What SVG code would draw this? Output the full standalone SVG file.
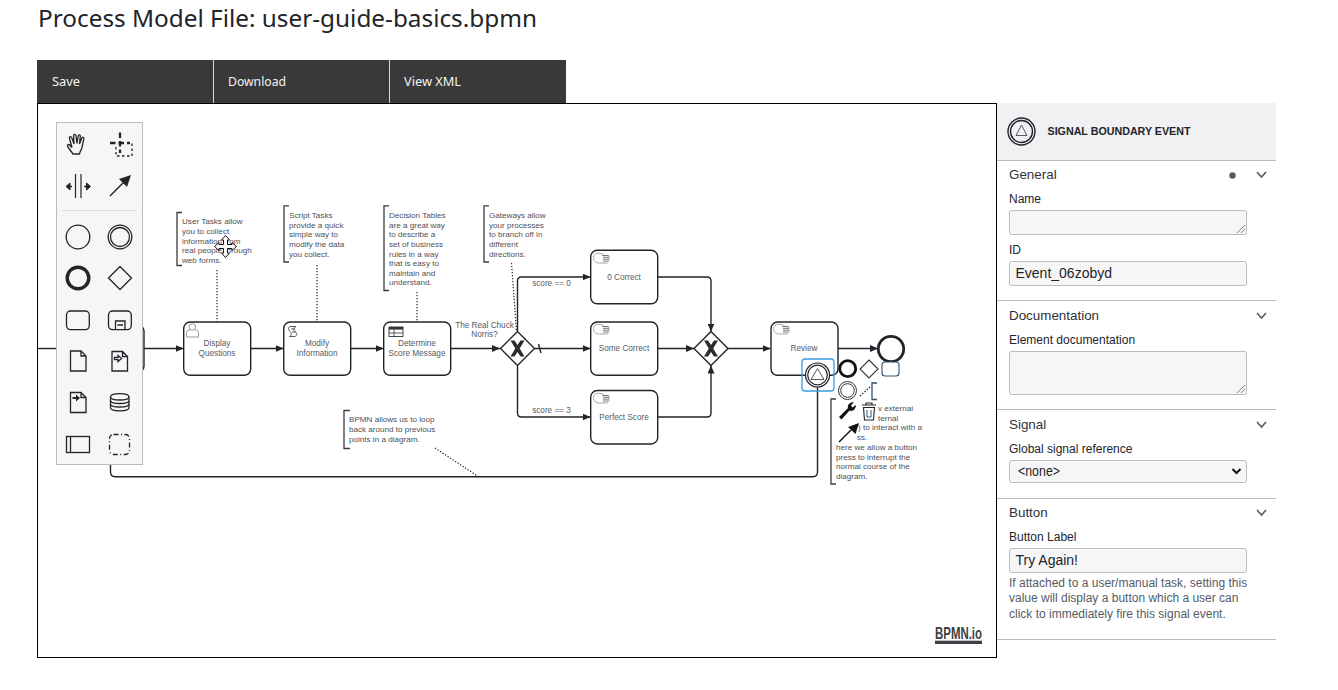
<svg xmlns="http://www.w3.org/2000/svg" xmlns:xlink="http://www.w3.org/1999/xlink" width="1338" height="690" viewBox="0 0 1338 690">
<style>
text{font-family:"Liberation Sans",Arial,sans-serif}
.plex{font-family:"Noto Sans","Open Sans",sans-serif}
.task{fill:#fff;stroke:#22242a;stroke-width:1.4}
.lbl{font-size:8.2px;fill:#555b66;text-anchor:middle}
.ann{font-size:8.1px;fill:#4f4f55}
.br{fill:none;stroke:#3a3b40;stroke-width:1.3}
.dot{fill:none;stroke:#22242a;stroke-width:1.2;stroke-dasharray:1.3 1.7}
.flow{fill:none;stroke:#22242a;stroke-width:1.4}
.ico{fill:none;stroke:#22242a;stroke-width:1.3}
.mt{fill:#fff;stroke:#9a9ca0;stroke-width:.9}
.pl{font-size:12px;fill:#22242a}
.sec{font-size:13.4px;fill:#30333a}
.field{fill:#f6f6f6;stroke:#b9bcc6;stroke-width:1}
.rule{stroke:#b9bcc6;stroke-width:1}
.chev{fill:none;stroke:#555b66;stroke-width:1.6}
.val{font-size:14px;fill:#22242a}
.btn{font-size:13px;fill:#f4f4f4}
</style>
<defs>
<marker id="ah" markerUnits="userSpaceOnUse" viewBox="0 0 8 7" markerWidth="8" markerHeight="7" refX="8" refY="3.5" orient="auto"><path d="M0 0L8 3.5L0 7Z" fill="#22242a"/></marker>
<g id="manual">
<path class="mt" d="M0 4.5C0 1.5 2.5 0 5 0.3L8 0.6C9.5 0.2 10 1.5 9 2.3L14.5 2.5C16 2.6 16 4 15 4.2C16.2 4.6 16 6 15 6.2C16 6.8 15.6 8 14.6 8C15 9 14.2 10 13.2 10H6C2.5 10 0 8 0 4.5Z"/>
<path d="M9 2.6H15M9.5 4.4H15.5M9.5 6.2H15.2M9.5 8H14.4" fill="none" stroke="#6c6e72" stroke-width=".9"/>
</g>
<path id="gwx" d="M-7 -8L-3 -8L0 -3.5L3 -8L7 -8L2.2 0L7 8L3 8L0 3.5L-3 8L-7 8L-2.2 0Z" fill="#2b2c30"/>
</defs>
<rect width="1338" height="690" fill="#fff"/>
<text class="plex" x="38" y="27" font-size="24" fill="#22242a" textLength="499" lengthAdjust="spacingAndGlyphs">Process Model File: user-guide-basics.bpmn</text>
<g id="toolbar">
<rect x="37" y="60" width="529" height="43" fill="#393939"/>
<path d="M213.5 60V103M389.5 60V103" stroke="#d8d8d8" stroke-width="1"/>
<text class="plex btn" x="52" y="86" textLength="28" lengthAdjust="spacingAndGlyphs">Save</text>
<text class="plex btn" x="228" y="86" textLength="58" lengthAdjust="spacingAndGlyphs">Download</text>
<text class="plex btn" x="404" y="86" textLength="57" lengthAdjust="spacingAndGlyphs">View XML</text>
</g>
<rect id="canvas" x="37.5" y="103.5" width="959" height="554" fill="#fff" stroke="#000" stroke-width="1"/>
<g id="connectors">
<path class="flow" d="M38 348.5H57"/>
<path class="flow" marker-end="url(#ah)" d="M144 348.5H183.5"/>
<path class="flow" marker-end="url(#ah)" d="M251 348.5H283.5"/>
<path class="flow" marker-end="url(#ah)" d="M351 348.5H383.5"/>
<path class="flow" marker-end="url(#ah)" d="M451 348.5H500"/>
<path class="flow" marker-end="url(#ah)" d="M517.5 331V281Q517.5 277 521.5 277H590.5"/>
<path class="flow" marker-end="url(#ah)" d="M535 348.5H590.5"/>
<path class="flow" d="M538.5 344L541 353"/>
<path class="flow" marker-end="url(#ah)" d="M517.5 366V413Q517.5 417 521.5 417H590.5"/>
<path class="flow" marker-end="url(#ah)" d="M657.5 277H707Q711 277 711 281V331.5"/>
<path class="flow" marker-end="url(#ah)" d="M657.5 348.5H694"/>
<path class="flow" marker-end="url(#ah)" d="M657.5 417H707Q711 417 711 413V365.5"/>
<path class="flow" marker-end="url(#ah)" d="M728 348.5H770.5"/>
<path class="flow" marker-end="url(#ah)" d="M838 348.5H878"/>
<path class="flow" d="M817.5 387V472Q817.5 476.7 813 476.7H115Q110.5 476.7 110.5 472V464"/>
<path class="dot" d="M217 270V322"/>
<path class="dot" d="M317 265V322"/>
<path class="dot" d="M417 292V322"/>
<path class="dot" d="M511.5 263L516.5 331"/>
<path class="dot" d="M435 448L479 477"/>
</g>
<g id="task-start"><rect class="task" x="100" y="325" width="44" height="47" rx="6"/></g>
<g id="task-display"><rect class="task" x="183.7" y="322" width="67" height="53.3" rx="6.5"/>
<g fill="#fff" stroke="#8d8f93" stroke-width=".9"><path d="M186.5 337V332.5Q186.5 330.5 189 330L190 329.5H195L196 330Q198.500 330.500 198.500 332.500V337Z"/><circle cx="192.300" cy="327" r="3.300"/></g>
<text class="lbl" x="217" y="346">Display</text><text class="lbl" x="217" y="356">Questions</text></g>
<g id="task-modify"><rect class="task" x="283.700" y="322" width="67" height="53.300" rx="6.500"/>
<path d="M290 326.500H296C293 328 293.500 330 295.500 332C297.500 334 297 335.500 295 336.500H289.500C292 335 291.500 333 290 331.500C288 329.500 288 327.500 290 326.500ZM291 329H295M292 332H296" fill="#fff" stroke="#55575c" stroke-width="1"/>
<text class="lbl" x="317" y="346">Modify</text><text class="lbl" x="317" y="356">Information</text></g>
<g id="task-determine"><rect class="task" x="383.700" y="322" width="67" height="53.300" rx="6.500"/>
<rect x="389" y="327" width="14" height="9.500" fill="#fff" stroke="#33353a" stroke-width=".9"/><rect x="389" y="327" width="14" height="2.600" fill="#33353a"/><path d="M389 333H403M394 329.500V336.500" stroke="#33353a" stroke-width=".8"/>
<text class="lbl" x="417" y="346">Determine</text><text class="lbl" x="417" y="356">Score Message</text></g>
<g id="gateway-chuck"><path d="M517.500 331.500L534.500 348.500L517.500 365.500L500.500 348.500Z" fill="#fff" stroke="#22242a" stroke-width="1.400"/><use xlink:href="#gwx" href="#gwx" x="517.500" y="348.500"/>
<text class="lbl" x="484.500" y="328">The Real Chuck</text><text class="lbl" x="484.500" y="337">Norris?</text></g>
<g id="task-zero"><rect class="task" x="590.700" y="250.300" width="67" height="53.500" rx="6.500"/><use xlink:href="#manual" href="#manual" x="593.500" y="253"/><text class="lbl" x="624" y="280">0 Correct</text></g>
<g id="task-some"><rect class="task" x="590.700" y="322" width="67" height="53.300" rx="6.500"/><use xlink:href="#manual" href="#manual" x="593.500" y="324"/><text class="lbl" x="624" y="351">Some Correct</text></g>
<g id="task-perfect"><rect class="task" x="590.700" y="390.500" width="67" height="53.500" rx="6.500"/><use xlink:href="#manual" href="#manual" x="593.500" y="393"/><text class="lbl" x="624" y="420">Perfect Score</text></g>
<g id="gateway-join"><path d="M711 331.500L728 348.500L711 365.500L694 348.500Z" fill="#fff" stroke="#22242a" stroke-width="1.400"/><use xlink:href="#gwx" href="#gwx" x="711" y="348.500"/></g>
<g id="task-review"><rect class="task" x="771" y="322" width="67" height="53.300" rx="6.500"/><use xlink:href="#manual" href="#manual" x="773.500" y="324"/><text class="lbl" x="804" y="351">Review</text></g>
<g id="end-event"><circle cx="891" cy="349" r="12.700" fill="#fff" stroke="#22242a" stroke-width="2.800"/></g>
<g id="flow-labels"><text class="lbl" x="551.500" y="286">score == 0</text><text class="lbl" x="551.500" y="413">score == 3</text></g>
<g id="annotation-user"><path class="br" d="M182 212.500H177V265.500H182"/>
<text class="ann"><tspan x="182" y="224">User Tasks allow</tspan><tspan x="182" y="234">you to collect</tspan><tspan x="182" y="243.500">information from</tspan><tspan x="182" y="253">real people through</tspan><tspan x="182" y="263">web forms.</tspan></text></g>
<g id="annotation-script"><path class="br" d="M289 205.800H284V262H289"/>
<text class="ann"><tspan x="289" y="218">Script Tasks</tspan><tspan x="289" y="227.500">provide a quick</tspan><tspan x="289" y="237">simple way to</tspan><tspan x="289" y="247">modify the data</tspan><tspan x="289" y="256.500">you collect.</tspan></text></g>
<g id="annotation-decision"><path class="br" d="M389 205.800H384V290.500H389"/>
<text class="ann"><tspan x="389" y="218">Decision Tables</tspan><tspan x="389" y="227.500">are a great way</tspan><tspan x="389" y="237">to describe a</tspan><tspan x="389" y="247">set of business</tspan><tspan x="389" y="256.500">rules in a way</tspan><tspan x="389" y="266">that is easy to</tspan><tspan x="389" y="275.500">maintain and</tspan><tspan x="389" y="285">understand.</tspan></text></g>
<g id="annotation-gateway"><path class="br" d="M489 205.800H484V262H489"/>
<text class="ann"><tspan x="489" y="218">Gateways allow</tspan><tspan x="489" y="227.500">your processes</tspan><tspan x="489" y="237">to branch off in</tspan><tspan x="489" y="247">different</tspan><tspan x="489" y="256.500">directions.</tspan></text></g>
<g id="annotation-loop"><path class="br" d="M350 410.500H344V448.500H350"/>
<text class="ann"><tspan x="349" y="422">BPMN allows us to loop</tspan><tspan x="349" y="432">back around to previous</tspan><tspan x="349" y="442">points in a diagram.</tspan></text></g>
<g id="annotation-signal"><path class="br" d="M836 399H831V484H836"/>
<text class="ann"><tspan x="878" y="411">v external</tspan><tspan x="878" y="421">ternal</tspan><tspan x="858" y="430">) to interact with a</tspan><tspan x="857" y="440">ss.</tspan><tspan x="836" y="450">here we allow a button</tspan><tspan x="836" y="459.500">press to interrupt the</tspan><tspan x="836" y="469">normal course of the</tspan><tspan x="836" y="478.500">diagram.</tspan></text></g>
<g id="boundary-event"><rect x="802" y="359" width="32" height="32" rx="3" fill="none" stroke="#3d9be0" stroke-width="1.300"/>
<circle cx="817.500" cy="375" r="12" fill="#fff" stroke="#22242a" stroke-width="1.200"/><circle cx="817.500" cy="375" r="9.800" fill="#fff" stroke="#22242a" stroke-width="1.200"/><path d="M817.500 368.500L824 379.500H811Z" fill="#fff" stroke="#55575c" stroke-width="1"/></g>
<g id="context-pad">
<circle cx="847.700" cy="368.700" r="8" fill="#fff" stroke="#111" stroke-width="2.800"/>
<path d="M869 360L878 369L869 378L860 369Z" fill="#fff" stroke="#33353a" stroke-width="1.100"/>
<rect x="882" y="362" width="17" height="14" rx="3" fill="#fff" stroke="#33506e" stroke-width="1.100"/>
<circle cx="847.500" cy="390.500" r="9" fill="#fff" stroke="#33353a" stroke-width="1"/><circle cx="847.500" cy="390.500" r="6.800" fill="#fff" stroke="#33353a" stroke-width="1"/>
<path d="M860 396L870 387" fill="none" stroke="#22242a" stroke-width="1.200" stroke-dasharray="1.500 1.500"/>
<path d="M877 383H872V399.500H877" fill="none" stroke="#33506e" stroke-width="1.300"/>
<path d="M839 417L848 408C847 405 850 402 854 402L851 405.500L852.500 407.500L856 405C856 409 852.500 412 849.500 410.500L841.500 419.500Z" fill="#111"/>
<path d="M862 405H876M866 405V403H872V405" fill="none" stroke="#22242a" stroke-width="1.100"/><path d="M863.500 407.500H874.500L873.500 420H864.500Z" fill="#fff" stroke="#22242a" stroke-width="1.100"/><path d="M867 410V417H871V410" fill="none" stroke="#33506e" stroke-width="1"/>
<path d="M839 442L851 430" stroke="#111" stroke-width="1.500"/><path d="M859 423L855.500 434L848 427Z" fill="#111"/>
</g>
<g id="palette">
<rect x="56.500" y="122.500" width="86" height="342" fill="#f6f6f6" stroke="#b9bcc6" stroke-width="1"/>
<path d="M62 210.500H137" stroke="#dcdde2" stroke-width="1"/>
<path class="ico" d="M73 154L68 147C66.500 145 68.500 143.800 70 145.200L72 147.500L69.500 138.500C69 136.500 71 136 71.800 137.800L74 144L73.600 135.800C73.500 134 75.800 134 76 135.800L77 143.500L78.200 136C78.500 134.300 80.500 134.600 80.300 136.400L79.500 144L81.800 138C82.500 136.500 84.400 137.200 83.800 139L81.800 148C81.500 150 80 151 79.500 154Z"/>
<path d="M120 132.500V153M110 143H130" stroke="#22242a" stroke-width="2.300" stroke-dasharray="5.500 3"/>
<path d="M116 146V155H132V142" fill="none" stroke="#22242a" stroke-width="1.300" stroke-dasharray="2.500 2.500" transform="translate(0 1)"/>
<path d="M120 145V150H132V140H124" fill="none" stroke="#22242a" stroke-width="0"/>
<path d="M75.500 174V198M81 174V198" stroke="#22242a" stroke-width="1.200"/><path d="M66 186.500L70 183V190ZM90.500 186.500L86.500 183V190Z" fill="#22242a" stroke="#22242a"/><path d="M68 186.500H72M84 186.500H88" stroke="#22242a" stroke-width="1.500"/>
<path d="M110 196L124 182" stroke="#22242a" stroke-width="1.500"/><path d="M131 175L127 187L119 179Z" fill="#22242a"/>
<circle class="ico" cx="78" cy="237" r="11.800"/>
<circle class="ico" cx="120" cy="237" r="11.800"/><circle class="ico" cx="120" cy="237" r="9.500"/>
<circle cx="78" cy="278" r="10.800" fill="none" stroke="#22242a" stroke-width="3.400"/>
<path class="ico" d="M120 266.500L131.500 278L120 289.500L108.500 278Z"/>
<rect class="ico" x="66.500" y="311" width="22.800" height="18.600" rx="4"/>
<rect class="ico" x="108.500" y="311" width="22.800" height="18.600" rx="4"/><path class="ico" d="M115.500 329.500V321H125V329.500M117.500 325H123"/>
<path class="ico" d="M70.500 351H81L86 356V371H70.500ZM81 351V356H86"/>
<path class="ico" d="M112 351.500H122.500L127.500 356.500V371H112ZM122.500 351.500V356.500H127.500M114.500 357.500H118V355.500L121.500 358.500L118 361.500V359.700H114.500Z"/>
<path class="ico" d="M70.500 392.500H81L86 397.500V412.500H70.500ZM81 392.500V397.500H86"/><path d="M72.500 397H76V394.500L80 398L76 401.500V399H72.500Z" fill="#22242a"/>
<path class="ico" d="M110.500 397C110.500 392.500 129 392.500 129 397V407.500C129 412 110.500 412 110.500 407.500ZM110.500 397C110.500 401 129 401 129 397M110.500 400.500C110.500 404.500 129 404.500 129 400.500M110.500 404C110.500 408 129 408 129 404"/>
<rect class="ico" x="66.500" y="436.500" width="23" height="16"/><path class="ico" d="M70.500 436.500V452.500"/>
<rect class="ico" x="109.500" y="434.500" width="20" height="20" rx="4" stroke-dasharray="5 2.500 1 2.500"/>
</g>
<g id="move-cursor"><path d="M225.500 235.500L229.500 240H227.500V244.500H232V242.500L236.500 246.500L232 250.500V248.500H227.500V253H229.500L225.500 257.500L221.500 253H223.500V248.500H219V250.500L214.500 246.500L219 242.500V244.500H223.500V240H221.500Z" fill="#fff" stroke="#111" stroke-width="1"/></g>
<g id="bpmn-logo"><text x="935" y="639" font-size="17" font-weight="700" fill="#3f4045" textLength="47" lengthAdjust="spacingAndGlyphs">BPMN.io</text><rect x="935" y="640.700" width="47" height="3.300" fill="#3f4045"/></g>
<g id="properties">
<rect x="997" y="103" width="279" height="57" fill="#f0f1f3"/>
<path class="rule" d="M997 160.500H1276M997 300.500H1276M997 409.500H1276M997 498.500H1276M997 639.500H1276"/>
<g id="props-icon"><circle cx="1021.500" cy="131.500" r="13.500" fill="none" stroke="#22242a" stroke-width="1.400"/><circle cx="1021.500" cy="131.500" r="11" fill="none" stroke="#22242a" stroke-width="1.400"/><path d="M1021.500 125L1027 135.500H1016Z" fill="none" stroke="#55575c" stroke-width="1"/></g>
<text x="1047.500" y="135" font-size="10.500" font-weight="700" fill="#22242a" textLength="143" lengthAdjust="spacingAndGlyphs">SIGNAL BOUNDARY EVENT</text>
<text class="sec" x="1009" y="179">General</text><circle cx="1232.500" cy="175.500" r="3.200" fill="#555b66"/><path class="chev" d="M1257 172L1261.500 177L1266 172"/>
<text class="pl" x="1009" y="203">Name</text><rect class="field" x="1009.500" y="210.500" width="237" height="24" rx="2"/><path d="M1237 233L1245 225M1241 233L1245 229" stroke="#666" stroke-width=".8"/>
<text class="pl" x="1009" y="254">ID</text><rect class="field" x="1009.500" y="261.500" width="237" height="24" rx="2"/><text class="val" x="1015.500" y="277.500">Event_06zobyd</text>
<text class="sec" x="1009" y="320">Documentation</text><path class="chev" d="M1257 313L1261.500 318L1266 313"/>
<text class="pl" x="1009" y="344">Element documentation</text><rect class="field" x="1009.500" y="351.500" width="237" height="43" rx="2"/><path d="M1237 393L1245 385M1241 393L1245 389" stroke="#666" stroke-width=".8"/>
<text class="sec" x="1009" y="429">Signal</text><path class="chev" d="M1257 422L1261.500 427L1266 422"/>
<text class="pl" x="1009" y="453">Global signal reference</text><rect class="field" x="1009.500" y="460.500" width="237" height="22" rx="2"/><text class="val" x="1018" y="476" textLength="42" lengthAdjust="spacingAndGlyphs">&lt;none&gt;</text><path d="M1232.500 469L1236.500 473L1240.500 469" fill="none" stroke="#111" stroke-width="2"/>
<text class="sec" x="1009" y="517">Button</text><path class="chev" d="M1257 510L1261.500 515L1266 510"/>
<text class="pl" x="1009" y="541">Button Label</text><rect class="field" x="1009.500" y="548.500" width="237" height="24" rx="2"/><text class="val" x="1015.500" y="565">Try Again!</text>
<text class="pl" fill="#555b66" style="fill:#555b66"><tspan x="1009" y="587">If attached to a user/manual task, setting this</tspan><tspan x="1009" y="602">value will display a button which a user can</tspan><tspan x="1009" y="618">click to immediately fire this signal event.</tspan></text>
</g>
</svg>
